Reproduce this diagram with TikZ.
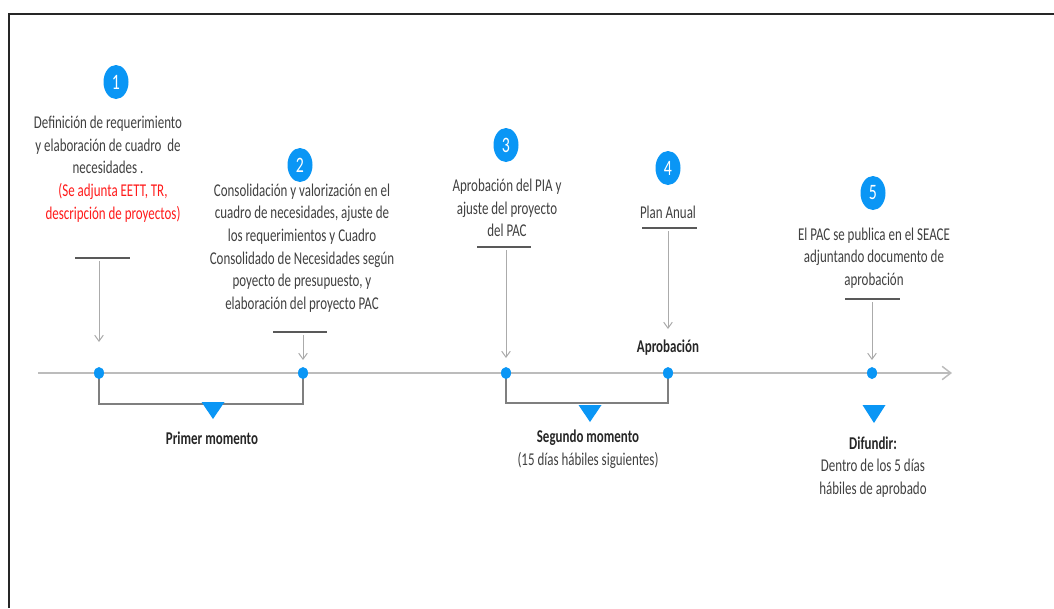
\documentclass[tikz,border=0pt]{standalone}
\usepackage{fontspec}
\setmainfont{Carlito}
\usetikzlibrary{arrows.meta,shapes.geometric}
\definecolor{tblue}{HTML}{0A96F5}
\definecolor{txtgray}{HTML}{404040}
\definecolor{lgray}{HTML}{ABABAB}
\definecolor{ugray}{HTML}{595959}
\definecolor{bgray}{HTML}{7F7F7F}
\definecolor{tred}{HTML}{FF1A1A}
\definecolor{frame}{HTML}{262626}
\tikzset{
  desc/.style={font=\fontsize{13.5}{17}\selectfont, text=txtgray, align=center, xscale=0.72, inner sep=0pt},
  redtxt/.style={desc, text=tred},
  boldlbl/.style={desc, font=\fontsize{13.5}{17}\selectfont\bfseries, text=frame},
  num/.style={ellipse, fill=tblue, minimum width=18.75pt, minimum height=25.5pt, inner sep=0pt, text=white, font=\fontsize{16.5}{18}\selectfont},
  dot/.style={ellipse, fill=tblue, minimum width=7.5pt, minimum height=9pt, inner sep=0pt},
  conn/.style={draw=lgray, line width=0.75pt, -{Straight Barb[length=4.5pt,width=6.5pt]}},
  timeline/.style={draw=lgray!80, line width=1.1pt, -{Straight Barb[length=6.5pt,width=10pt]}},
  uline/.style={draw=ugray, line width=0.8pt},
  bracket/.style={draw=bgray, line width=1pt},
  tri/.style={fill=tblue}
}
\newcommand{\nm}[1]{\scalebox{0.72}[1]{#1}}
\begin{document}
\begin{tikzpicture}[x=0.75pt,y=-0.75pt]
\useasboundingbox (0,0) rectangle (1054,608);
% frame
\draw[draw=frame, line width=1.5pt] (9,608) -- (9,14) -- (1054,14);

% timeline
\coordinate (tl0) at (38,373);
\coordinate (tl1) at (952,373);
\draw[timeline] (tl0) -- (tl1);

% dots (positions)
\coordinate (p1) at (99,373);
\coordinate (p2) at (303,373);
\coordinate (p3) at (506,373);
\coordinate (p4) at (668,373);
\coordinate (p5) at (872,373);

% brackets
\draw[bracket] (p1) -- ++(0,31) -| (p2);
\draw[bracket] (p3) -- ++(0,30) -| (p4);

\node[dot] (d1) at (p1) {};
\node[dot] (d2) at (p2) {};
\node[dot] (d3) at (p3) {};
\node[dot] (d4) at (p4) {};
\node[dot] (d5) at (p5) {};

% number circles
\node[num] (n1) at (116,82) {\nm{1}};
\node[num] (n2) at (300,165) {\nm{2}};
\node[num] (n3) at (506,145) {\nm{3}};
\node[num] (n4) at (668,168) {\nm{4}};
\node[num] (n5) at (873,193) {\nm{5}};

% texts
\node[desc] (t1) at (108,145) {Definición de requerimiento\\y elaboración de cuadro~ de\\necesidades .};
\node[redtxt] (t1r) at (113,203) {(Se adjunta EETT, TR,\\descripción de proyectos)};
\node[desc] (t2) at (302,248) {Consolidación y valorización en el\\cuadro de necesidades, ajuste de\\los requerimientos y Cuadro\\Consolidado de Necesidades según\\poyecto de presupuesto, y\\elaboración del proyecto PAC};
\node[desc] (t3) at (507,208) {Aprobación del PIA y\\ajuste del proyecto\\del PAC};
\node[desc] (t4) at (668,212) {Plan Anual};
\node[desc] (t5) at (874,258) {El PAC se publica en el SEACE\\adjuntando documento de\\aprobación};
\node[boldlbl] (ap) at (668,348) {Aprobación};

% underlines
\draw[uline] (75,258) -- (130,258);
\draw[uline] (273,332) -- (327,332);
\draw[uline] (477,247) -- (531,247);
\draw[uline] (642,228) -- (697,228);
\draw[uline] (845,299) -- (900,299);

% arrows
\coordinate (a1s) at (99,261);  \coordinate (a1e) at (99,342);
\coordinate (a2s) at (303,335); \coordinate (a2e) at (303,360);
\coordinate (a3s) at (506,250); \coordinate (a3e) at (506,358);
\coordinate (a4s) at (668,231); \coordinate (a4e) at (668,329);
\coordinate (a5s) at (872,302); \coordinate (a5e) at (872,360);
\draw[conn] (a1s) -- (a1e);
\draw[conn] (a2s) -- (a2e);
\draw[conn] (a3s) -- (a3e);
\draw[conn] (a4s) -- (a4e);
\draw[conn] (a5s) -- (a5e);

% triangles
\fill[tri] (201.5,402) -- (224.5,402) -- (213,419) -- cycle;
\fill[tri] (578.5,405) -- (601.5,405) -- (590,422) -- cycle;
\fill[tri] (862.5,405) -- (885.5,405) -- (874,423) -- cycle;

% lower labels
\node[boldlbl] (m1) at (212,438) {Primer momento};
\node[boldlbl] (m2) at (588,438) {Segundo momento};
\node[desc] (m2b) at (588,460) {(15 días hábiles siguientes)};
\node[boldlbl] (m3) at (873,443) {Difundir:};
\node[desc] (m3b) at (873,478) {Dentro de los 5 días\\hábiles de aprobado};
\end{tikzpicture}
\end{document}
